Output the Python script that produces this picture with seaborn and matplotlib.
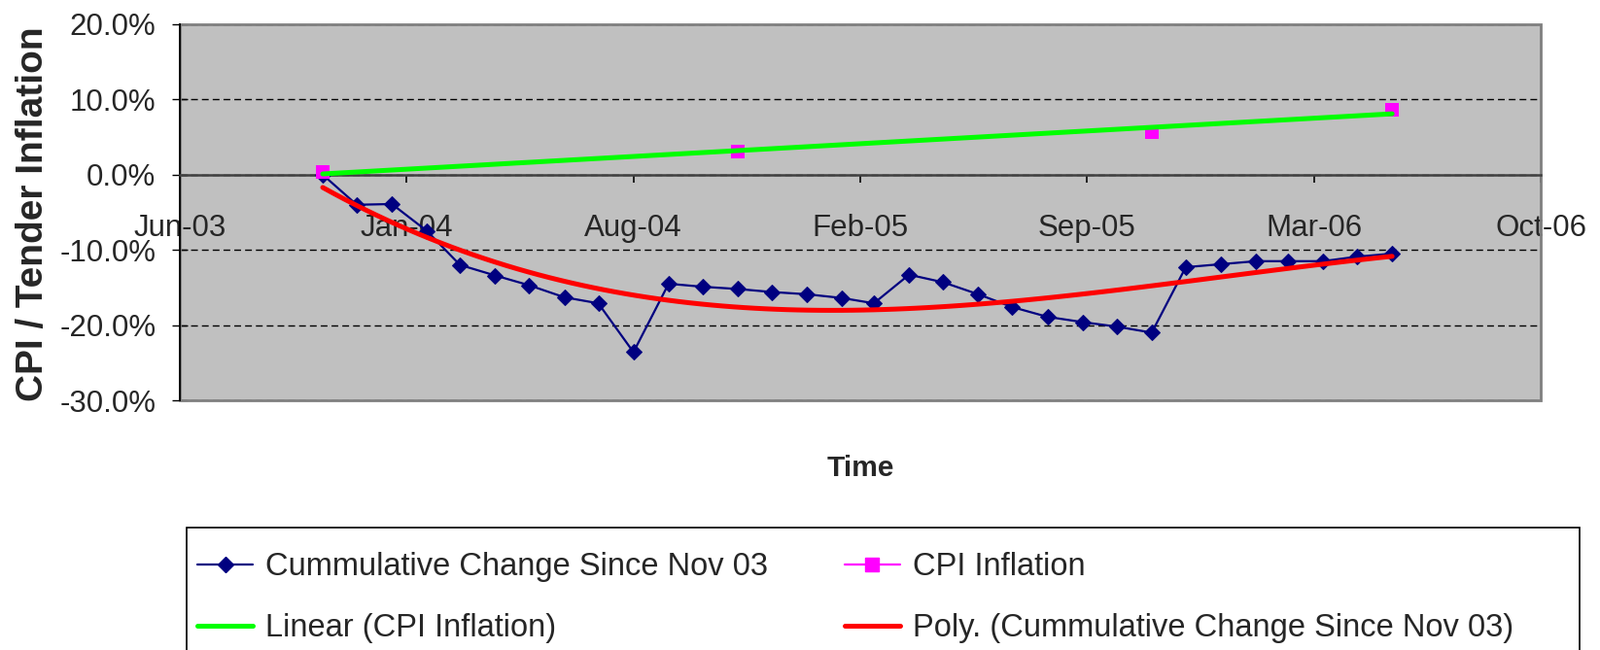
import numpy as np
import pandas as pd
import seaborn as sns
import matplotlib
matplotlib.use('Agg')
from matplotlib import pyplot as plt
import matplotlib.dates as mdates
from matplotlib.lines import Line2D
from matplotlib.patches import Rectangle
from matplotlib.ticker import FuncFormatter

sns.set_style('white')
plt.rcParams['font.family'] = ['Liberation Sans', 'DejaVu Sans']

# monthly cumulative change since Nov 03 (%)
months = pd.date_range('2003-11-01', '2006-06-01', freq='MS')
cum_change = [0.0, -4.0, -3.9, -7.5, -12.0, -13.4, -14.7, -16.3, -17.1, -23.6,
              -14.5, -14.9, -15.2, -15.6, -15.9, -16.4, -17.1, -13.3, -14.3, -15.9,
              -17.6, -18.9, -19.6, -20.2, -21.0, -12.3, -11.9, -11.5, -11.5, -11.5,
              -10.9, -10.5]

# CPI inflation (%)
cpi_dates = pd.to_datetime(['2003-11-01', '2004-11-01', '2005-11-01', '2006-06-01'])
cpi_infl = [0.3, 3.1, 5.7, 8.6]

# axis: date ticks every 200 days
tick_dates = pd.date_range('2003-06-28', periods=7, freq='200D')
y_ticks = [-30, -20, -10, 0, 10, 20]

labels = ['Cummulative Change Since Nov 03', 'Linear (CPI Inflation)',
          'CPI Inflation', 'Poly. (Cummulative Change Since Nov 03)']

df = pd.DataFrame({'x': mdates.date2num(months), 'y': cum_change})
df_cpi = pd.DataFrame({'x': mdates.date2num(cpi_dates), 'y': cpi_infl})

fig = plt.figure(figsize=(16.46, 6.69), dpi=100)
ax = fig.add_axes([185 / 1646, 1 - 412 / 669, 1400 / 1646, 387 / 669])
ax.set_facecolor('#C0C0C0')

sns.lineplot(data=df, x='x', y='y', ax=ax, color='#000080', lw=1.6,
             marker='D', markersize=8.5, markeredgecolor='#000080', zorder=3)
sns.scatterplot(data=df_cpi, x='x', y='y', ax=ax, color='#FF00FF', marker='s',
                s=100, linewidth=0, zorder=4)
# trend lines (poly order 3 / linear)
sns.regplot(data=df, x='x', y='y', ax=ax, scatter=False, ci=None, order=3,
            line_kws={'color': '#FF0000', 'lw': 3.6, 'zorder': 5})
sns.regplot(data=df_cpi, x='x', y='y', ax=ax, scatter=False, ci=None,
            line_kws={'color': '#00FF00', 'lw': 3.6, 'zorder': 5})

ax.set_xlim(mdates.date2num(tick_dates[0]), mdates.date2num(tick_dates[-1]))
ax.set_ylim(-30, 20)
ax.set_xticks(mdates.date2num(tick_dates))
ax.xaxis.set_major_formatter(mdates.DateFormatter('%b-%y'))
ax.set_yticks(y_ticks)
ax.yaxis.set_major_formatter(FuncFormatter(lambda v, p: f'{v:.1f}%'))
ax.set_xlabel('')
ax.set_ylabel('')

ax.yaxis.grid(True, color='black', linestyle=(0, (5, 3)), linewidth=1)
ax.set_axisbelow(True)

for s in ['top', 'right']:
    ax.spines[s].set_visible(False)
ax.spines['bottom'].set_position(('data', 0))
ax.spines['bottom'].set_color('#404040')
ax.spines['bottom'].set_linewidth(1.8)
ax.spines['left'].set_color('black')
ax.spines['left'].set_linewidth(1.4)
ax.add_patch(Rectangle((0, 0), 1, 1, transform=ax.transAxes, fill=False,
                       edgecolor='#808080', lw=2, zorder=2.4, clip_on=False))

ax.tick_params(axis='y', direction='inout', length=11.5, width=1, color='black',
               labelsize=22.5, pad=12, left=True)
ax.tick_params(axis='x', direction='out', length=5.8, width=1.4, color='#202020',
               labelsize=22.5, pad=23.5, bottom=True)

fig.text(34 / 1646, 1 - 220 / 669, 'CPI / Tender Inflation', rotation=90,
         ha='center', va='center', fontsize=28, fontweight='bold')
fig.text(885 / 1646, 1 - 482 / 669, 'Time', ha='center', va='center',
         fontsize=21.5, fontweight='bold')

# legend box (runs off the bottom edge like the original)
fig.patches.append(Rectangle((192 / 1646, -0.05), (1625 - 192) / 1646,
                             1 - 543 / 669 + 0.05, transform=fig.transFigure,
                             facecolor='white', edgecolor='black', lw=1.2))

handles = [
    Line2D([], [], color='#000080', lw=1.6, marker='D', markersize=8.5),
    Line2D([], [], color='#00FF00', lw=3.6),
    Line2D([], [], color='#FF00FF', lw=1.6, marker='s', markersize=10),
    Line2D([], [], color='#FF0000', lw=3.6),
]
leg = fig.legend(handles, labels, loc='upper left', ncol=2,
                 bbox_to_anchor=(203 / 1646, 1 - 568 / 669), borderaxespad=0,
                 fontsize=23.5, frameon=False, borderpad=0, labelspacing=0.98,
                 handlelength=1.75, handletextpad=0.4, columnspacing=2.4)

fig.savefig('out.png', dpi=100)
